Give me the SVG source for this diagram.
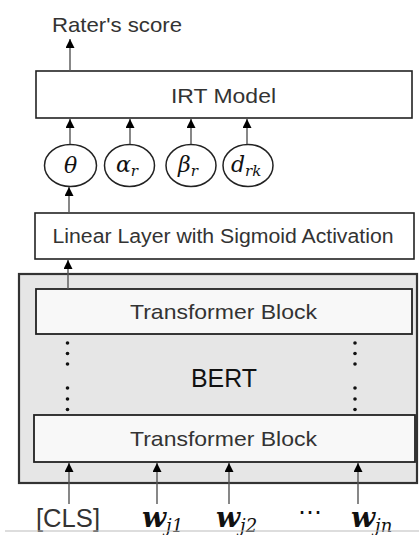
<svg xmlns="http://www.w3.org/2000/svg" width="419" height="535" viewBox="0 0 419 535">
  <defs>
    <marker id="head" viewBox="0 0 10 10" refX="10" refY="5" markerWidth="9" markerHeight="9" markerUnits="userSpaceOnUse" orient="auto">
      <path d="M0,0 L10,5 L0,10 Z" fill="#000"/>
    </marker>
    <style>
      .box { fill: #fff; stroke: #222; stroke-width: 1.6; }
      .block { fill: #f8f8f8; stroke: #222; stroke-width: 1.8; }
      .bert { fill: #e6e6e6; stroke: #333; stroke-width: 2.2; }
      .node { fill: #fff; stroke: #222; stroke-width: 1.5; }
      .lbl { font-family: "Liberation Sans", "Noto Sans", sans-serif; fill: #333; text-anchor: middle; }
      .math { font-family: "DejaVu Serif", "Liberation Serif", serif; font-style: italic; fill: #111; }
      .w { font-family: "DejaVu Serif", "Liberation Serif", serif; font-style: italic; font-weight: bold; fill: #111; }
      .sub { font-family: "DejaVu Serif", "Liberation Serif", serif; font-style: italic; font-weight: normal; fill: #111; }
      .link { stroke: #555; stroke-width: 1.4; fill: none; marker-end: url(#head); }
      .dot { fill: #111; }
    </style>
  </defs>

  <rect width="419" height="535" fill="#fff"/>

  <!-- output label -->
  <g id="output">
    <text class="lbl" x="117" y="32" font-size="21" textLength="130" lengthAdjust="spacingAndGlyphs">Rater's score</text>
  </g>

  <g id="irt">
    <rect class="box" x="36" y="71" width="376" height="47"/>
    <text class="lbl" x="223.5" y="102.5" font-size="21" textLength="105" lengthAdjust="spacingAndGlyphs">IRT Model</text>
  </g>

  <!-- IRT parameters -->
  <g id="theta">
    <ellipse class="node" cx="70.5" cy="165.5" rx="26" ry="21"/>
    <text class="math" x="70.5" y="173" font-size="22" text-anchor="middle">θ</text>
  </g>
  <g id="alpha">
    <ellipse class="node" cx="129.5" cy="165.5" rx="25" ry="21"/>
    <text class="math" x="116" y="172" font-size="22">α<tspan class="sub" font-size="15" dy="4">r</tspan></text>
  </g>
  <g id="beta">
    <ellipse class="node" cx="191" cy="165.5" rx="25" ry="21"/>
    <text class="math" x="178" y="172" font-size="22">β<tspan class="sub" font-size="15" dy="4">r</tspan></text>
  </g>
  <g id="d">
    <ellipse class="node" cx="248" cy="165.5" rx="25" ry="21"/>
    <text class="math" x="231" y="172" font-size="22">d<tspan class="sub" font-size="15" dy="4">rk</tspan></text>
  </g>

  <g id="linear">
    <rect class="box" x="35" y="213" width="379" height="46"/>
    <text class="lbl" x="223" y="243" font-size="20" textLength="341" lengthAdjust="spacingAndGlyphs">Linear Layer with Sigmoid Activation</text>
  </g>

  <g id="bert">
    <rect class="bert" x="19" y="274" width="398" height="209"/>
    <text class="lbl" x="224" y="387" font-size="25" style="fill:#111" textLength="66" lengthAdjust="spacingAndGlyphs">BERT</text>
    <!-- stacked-layer ellipsis dots -->
    <circle class="dot" cx="67.5" cy="343" r="1.8"/>
    <circle class="dot" cx="67.5" cy="353.5" r="1.8"/>
    <circle class="dot" cx="67.5" cy="364" r="1.8"/>
    <circle class="dot" cx="67.5" cy="388" r="1.8"/>
    <circle class="dot" cx="67.5" cy="399" r="1.8"/>
    <circle class="dot" cx="67.5" cy="409.5" r="1.8"/>
    <circle class="dot" cx="355" cy="343" r="1.8"/>
    <circle class="dot" cx="355" cy="353.5" r="1.8"/>
    <circle class="dot" cx="355" cy="364" r="1.8"/>
    <circle class="dot" cx="355" cy="388" r="1.8"/>
    <circle class="dot" cx="355" cy="399" r="1.8"/>
    <circle class="dot" cx="355" cy="409.5" r="1.8"/>
  </g>

  <g id="block-top">
    <rect class="block" x="36" y="289" width="376" height="45"/>
    <text class="lbl" x="223.5" y="318.5" font-size="21" textLength="187" lengthAdjust="spacingAndGlyphs">Transformer Block</text>
  </g>

  <g id="block-bottom">
    <rect class="block" x="34" y="415" width="381" height="47"/>
    <text class="lbl" x="223.5" y="445.5" font-size="21" textLength="187" lengthAdjust="spacingAndGlyphs">Transformer Block</text>
  </g>

  <!-- input tokens -->
  <g id="cls">
    <text class="lbl" x="68" y="527" font-size="26" textLength="64" lengthAdjust="spacingAndGlyphs">[CLS]</text>
  </g>
  <g id="w1">
    <text class="w" x="142" y="527" font-size="28">w<tspan class="sub" font-size="18" dy="5">j1</tspan></text>
  </g>
  <g id="w2">
    <text class="w" x="216" y="527" font-size="28">w<tspan class="sub" font-size="18" dy="5">j2</tspan></text>
  </g>
  <g id="ellipsis">
    <text class="lbl" x="310" y="520" font-size="24" style="fill:#111">⋯</text>
  </g>
  <g id="wn">
    <text class="w" x="351" y="527" font-size="28">w<tspan class="sub" font-size="18" dy="5">jn</tspan></text>
  </g>

  <!-- connectors -->
  <g id="connectors">
    <line class="link" x1="70" y1="71" x2="70" y2="39"/>
    <line class="link" x1="70" y1="144" x2="70" y2="119"/>
    <line class="link" x1="130" y1="144" x2="130" y2="119"/>
    <line class="link" x1="191" y1="144" x2="191" y2="119"/>
    <line class="link" x1="247" y1="144" x2="247" y2="119"/>
    <line class="link" x1="69" y1="213" x2="69" y2="187"/>
    <line class="link" x1="68" y1="289" x2="68" y2="260"/>
    <line class="link" x1="69" y1="504" x2="69" y2="463"/>
    <line class="link" x1="157" y1="504" x2="157" y2="463"/>
    <line class="link" x1="229" y1="504" x2="229" y2="463"/>
    <line class="link" x1="358" y1="504" x2="358" y2="463"/>
  </g>

  <!-- baseline rule under the tokens -->
  <line x1="5" y1="531" x2="419" y2="531" stroke="#bbb" stroke-width="1"/>
</svg>
